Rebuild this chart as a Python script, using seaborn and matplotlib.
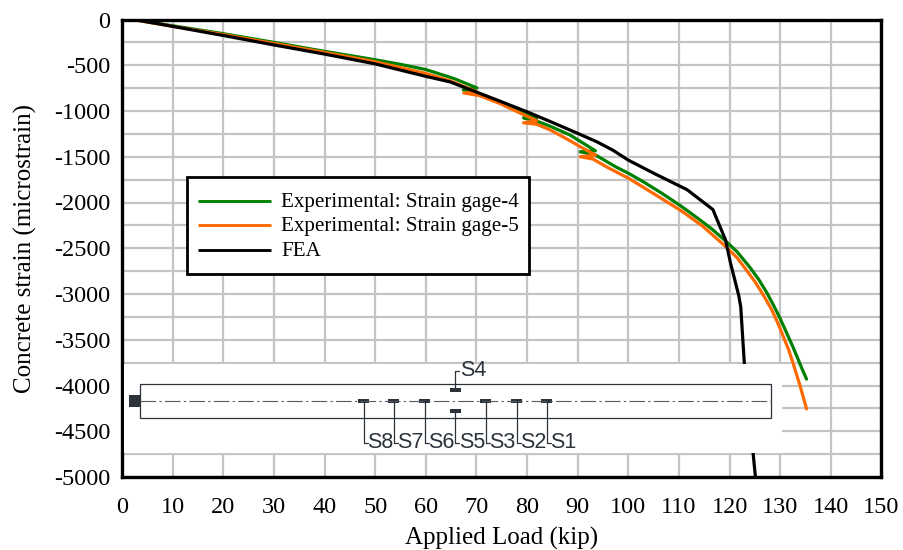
import numpy as np
import pandas as pd
import matplotlib
matplotlib.use("Agg")
import matplotlib.pyplot as plt
from matplotlib.patches import Rectangle
import seaborn as sns

g4_load = [2.5,10,20,30,40,47,50,55,60,65.6,70.1,67.4,70,72,76,81.9,79.3,81.9,84.5,88.5,93.5,90.5,93.5,95.5,97.5,100.1,103,106.5,110.3,113.9,116.5,119.2,121.5,124.1,125.8,127.4,128.7,130,132.6,134.4,135.2]
g4_strain = [-5,-68,-155,-250,-348,-412,-440,-490,-547,-646,-748,-770,-800,-840,-940,-1081,-1074,-1110,-1165,-1263,-1435,-1446,-1480,-1545,-1610,-1683,-1775,-1895,-2035,-2180,-2290,-2420,-2540,-2715,-2845,-2990,-3125,-3270,-3590,-3830,-3930]
g5_load = [2.5,10,20,30,40,50,60,64.8,70.1,67.5,70.5,74.7,76,81.9,79.3,81.9,84.5,88.5,90,93.5,90.5,93,96,100.1,103,106.5,110.3,114.6,119.2,121.5,123.4,125,126.7,128.3,129.7,131.7,132.5,133.9,135.2]
g5_strain = [-5,-75,-165,-262,-360,-462,-590,-670,-790,-803,-830,-919,-955,-1107,-1129,-1145,-1205,-1325,-1375,-1482,-1500,-1525,-1620,-1737,-1835,-1955,-2085,-2255,-2480,-2605,-2745,-2865,-3015,-3170,-3340,-3615,-3750,-4000,-4255]
fea_load = [3.9,10,20,30,40,50,59.9,64.8,70.1,75,80,85,89.9,93.8,97,100,105,111.6,116.7,119.2,120.2,121.8,122.2,122.9,125.1]
fea_strain = [-15,-75,-175,-278,-378,-485,-620,-682,-795,-900,-1009,-1125,-1242,-1337,-1430,-1537,-1680,-1860,-2077,-2410,-2667,-3015,-3140,-3750,-5000]
series_names = ["Experimental: Strain gage-4","Experimental: Strain gage-5","FEA"]
x_ticks = list(range(0,151,10))
y_ticks = list(range(0,-5001,-500))
y_minor = list(range(-250,-5000,-500))
gauge_names = ["S8","S7","S6","S5","S3","S2","S1"]
gauge_px = [364,394,425,455.5,486,517,547]

W,H = 904,550
sns.set_theme(style="white")
plt.rcParams['font.family'] = ['Liberation Serif','DejaVu Serif']
plt.rcParams['axes.unicode_minus'] = False
fig = plt.figure(figsize=(W/100,H/100),dpi=100)
L,R,T,B = 122,881.5,19.5,477
ax = fig.add_axes([L/W,1-B/H,(R-L)/W,(B-T)/H])

df = pd.concat([
    pd.DataFrame({"load":g4_load,"strain":g4_strain,"s":series_names[0]}),
    pd.DataFrame({"load":g5_load,"strain":g5_strain,"s":series_names[1]}),
    pd.DataFrame({"load":fea_load,"strain":fea_strain,"s":series_names[2]}),
])
sns.lineplot(data=df,x="load",y="strain",hue="s",units="s",estimator=None,sort=False,ax=ax,
             palette={series_names[0]:"#008000",series_names[1]:"#ff6a00",series_names[2]:"#000000"},
             linewidth=2.3,legend=False,zorder=3)
ax.set_xlim(0,150); ax.set_ylim(-5000,0)
ax.set_xticks(x_ticks); ax.set_yticks(y_ticks); ax.set_yticks(y_minor,minor=True)
ax.grid(True,which="both",color="#c4c4c4",linewidth=1.6,zorder=0)
ax.set_axisbelow(True)
ax.tick_params(axis='both',which="both",length=0,labelsize=17.5,colors="black")
ax.tick_params(axis='y',pad=8.5); ax.tick_params(axis='x',pad=14.5)
ax.set_xlabel("Applied Load (kip)",fontsize=18,color="black",labelpad=6)
ax.set_ylabel("Concrete strain (microstrain)",fontsize=18,color="black",labelpad=12)
for s in ax.spines.values():
    s.set_visible(True); s.set_color("black"); s.set_linewidth(2.4); s.set_zorder(10)

# legend drawn as a manual box, in pixel coordinates
ov = fig.add_axes([0,0,1,1],facecolor="none")
ov.set_xlim(0,W); ov.set_ylim(H,0); ov.axis("off")
ov.add_patch(Rectangle((187.5,177),342,97,fc="white",ec="black",lw=2.0))
for yy,c,n in zip([201,225,250],["#008000","#ff6a00","#000000"],series_names):
    ov.plot([198,271],[yy,yy],color=c,lw=2.1,solid_capstyle="butt")
    ov.text(281,yy+1,n,fontsize=15.1,va="center",ha="left",color="black")

# beam schematic inset
ink="#2b323a"
ov.add_patch(Rectangle((124,364),658,89,fc="white",ec="none"))
ov.add_patch(Rectangle((140,383.5),631.5,34,fc="none",ec=ink,lw=0.9))
ov.plot([140,771],[400.5,400.5],color="#555a60",lw=0.8,ls=(0,(14,3,2,3)))
ov.add_patch(Rectangle((129,394.5),11,12,fc=ink,ec="none"))
for n,x in zip(gauge_names,gauge_px):
    yc = 410.5 if n=="S5" else 400.5
    ov.add_patch(Rectangle((x-5.5,yc-2),11,4,fc=ink,ec="none"))
    ov.plot([x,x,x+4],[yc,443,443],color=ink,lw=0.9)
    ov.text(x+3.5,443,n,fontsize=15.5,family="Liberation Sans",color=ink,va="center",ha="left")
x4=gauge_px[3]
ov.add_patch(Rectangle((x4-5.5,388),11,4,fc=ink,ec="none"))
ov.plot([x4,x4,x4+4],[390,371,371],color=ink,lw=0.9)
ov.text(x4+5,370,"S4",fontsize=15.5,family="Liberation Sans",color=ink,va="center",ha="left")

fig.savefig("out.png",dpi=100)
